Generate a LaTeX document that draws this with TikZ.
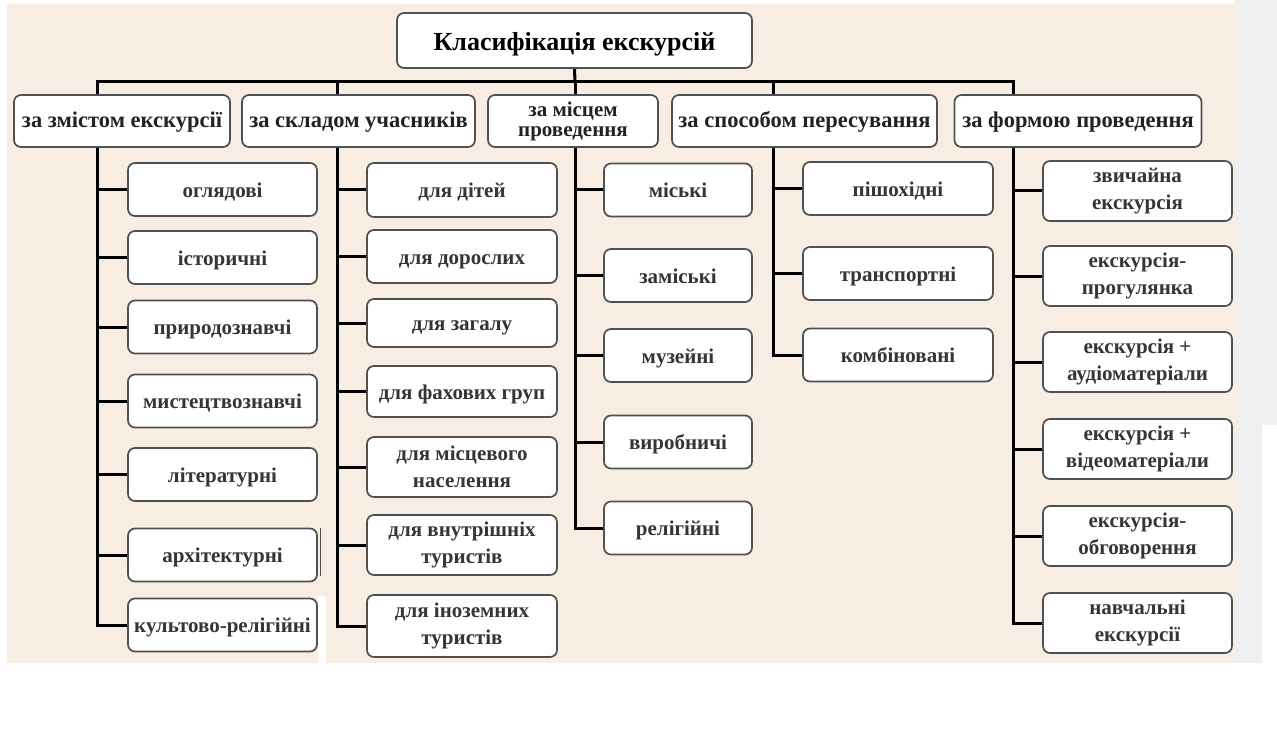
\documentclass[tikz,border=0pt]{standalone}
\usepackage{fontspec}
\setmainfont{Liberation Serif}
\definecolor{bgbeige}{HTML}{F8EDE2}
\definecolor{stripgrey}{HTML}{EFEFF0}
\definecolor{boxline}{HTML}{505050}
\definecolor{txtdark}{HTML}{222222}
\definecolor{txtchild}{HTML}{353535}
\tikzset{
  box/.style={draw=boxline, line width=1.7pt, fill=white, rounded corners=7pt,
    inner sep=0pt, align=center, font=\bfseries},
  titlebox/.style={box, font=\fontsize{26}{28}\selectfont\bfseries, text=black,
    text height=23pt, text depth=2pt},
  catbox/.style={box, minimum height=52pt, font=\fontsize{22.5}{22}\selectfont\bfseries, text=txtdark},
  catone/.style={catbox, text height=17pt, text depth=3pt},
  kidbox/.style={box, font=\fontsize{21}{27}\selectfont\bfseries, text=txtchild},
  one/.style={text height=18pt, text depth=2.5pt},
  conn/.style={draw=black, line width=3pt},
  artefact/.style={draw=boxline, line width=1.2pt},
}
\begin{document}
\begin{tikzpicture}[x=1pt,y=-1pt]
% background
\useasboundingbox (0,0) rectangle (1277,738);
\fill[white] (0,0) rectangle (1277,738);
\fill[bgbeige] (7,4) rectangle (1235,663);
\fill[stripgrey] (1235,0) rectangle (1277,425);
\fill[stripgrey] (1235,425) rectangle (1262,663);
\fill[white] (318,596) rectangle (326,663);

% title and categories
\node[titlebox, minimum width=355pt, minimum height=55pt] (title) at (574.5,40.5) {Класифікація екскурсій};
\node[catone, minimum width=216pt] (c1) at (122,121) {за змістом екскурсії};
\node[catone, minimum width=233pt] (c2) at (358.5,121) {за складом учасників};
\node[catbox, minimum width=170pt, font=\fontsize{21}{20}\selectfont\bfseries] (c3) at (573,121) {за місцем\\проведення};
\node[catone, minimum width=265pt] (c4) at (804.5,121) {за способом пересування};
\node[catone, minimum width=247pt] (c5) at (1078,121) {за формою проведення};

% spine coordinates on the bus
\coordinate (s1) at (97,82);
\coordinate (s2) at (337,82);
\coordinate (s3) at (575,82);
\coordinate (s4) at (773,82);
\coordinate (s5) at (1013,82);

% column 1
\begin{scope}[every node/.style={kidbox, one, minimum width=189pt, minimum height=53pt}]
\node (a1) at (222.5,189.5) {оглядові};
\node (a2) at (222.5,257.5) {історичні};
\node (a3) at (222.5,327) {природознавчі};
\node (a4) at (222.5,401) {мистецтвознавчі};
\node (a5) at (222.5,474.5) {літературні};
\node (a6) at (222.5,555) {архітектурні};
\node (a7) at (222.5,625) {культово-релігійні};
\end{scope}

% column 2
\begin{scope}[every node/.style={kidbox, minimum width=190pt}]
\node[one, minimum height=54pt] (b1) at (462,190) {для дітей};
\node[one, minimum height=53pt] (b2) at (462,256.5) {для дорослих};
\node[one, minimum height=48pt] (b3) at (462,323) {для загалу};
\node[one, minimum height=51pt] (b4) at (462,391.5) {для фахових груп};
\node[minimum height=60pt] (b5) at (462,467) {для місцевого\\населення};
\node[minimum height=60pt] (b6) at (462,545) {для внутрішніх\\туристів};
\node[minimum height=62pt] (b7) at (462,626) {для іноземних\\туристів};
\end{scope}

% column 3
\begin{scope}[every node/.style={kidbox, one, minimum width=148pt, minimum height=53pt}]
\node (d1) at (678,190) {міські};
\node (d2) at (678,275.5) {заміські};
\node (d3) at (678,355.5) {музейні};
\node (d4) at (678,442) {виробничі};
\node (d5) at (678,528) {релігійні};
\end{scope}

% column 4
\begin{scope}[every node/.style={kidbox, one, minimum width=190pt, minimum height=53pt}]
\node (e1) at (898,188.5) {пішохідні};
\node (e2) at (898,273.5) {транспортні};
\node (e3) at (898,355) {комбіновані};
\end{scope}

% column 5
\begin{scope}[every node/.style={kidbox, minimum width=189pt, minimum height=60pt}]
\node (f1) at (1137.5,191) {звичайна\\екскурсія};
\node (f2) at (1137.5,276) {екскурсія-\\прогулянка};
\node (f3) at (1137.5,362) {екскурсія +\\аудіоматеріали};
\node (f4) at (1137.5,449) {екскурсія +\\відеоматеріали};
\node (f5) at (1137.5,536) {екскурсія-\\обговорення};
\node (f6) at (1137.5,623) {навчальні\\екскурсії};
\end{scope}

% small stray line beside "архітектурні"
\coordinate (g1) at ([xshift=3pt]a6.north east);
\coordinate (g2) at ([xshift=3pt,yshift=6pt]a6.south east);
\draw[artefact] (g1) -- (g2);

% connectors: title to bus
\draw[conn] (title.south) -- (s3);
\draw[conn, line cap=rect] (s1) -- (s5);
\draw[conn] (s1) -- (s1 |- c1.north);
\draw[conn] (s2) -- (s2 |- c2.north);
\draw[conn] (s3) -- (s3 |- c3.north);
\draw[conn] (s4) -- (s4 |- c4.north);
\draw[conn] (s5) -- (s5 |- c5.north);

% column spines
\draw[conn] (s1 |- c1.south) |- (a7.west);
\foreach \k in {a1,a2,a3,a4,a5,a6} \draw[conn] (s1 |- \k.west) -- (\k.west);
\draw[conn] (s2 |- c2.south) |- (b7.west);
\foreach \k in {b1,b2,b3,b4,b5,b6} \draw[conn] (s2 |- \k.west) -- (\k.west);
\draw[conn] (s3 |- c3.south) |- (d5.west);
\foreach \k in {d1,d2,d3,d4} \draw[conn] (s3 |- \k.west) -- (\k.west);
\draw[conn] (s4 |- c4.south) |- (e3.west);
\foreach \k in {e1,e2} \draw[conn] (s4 |- \k.west) -- (\k.west);
\draw[conn] (s5 |- c5.south) |- (f6.west);
\foreach \k in {f1,f2,f3,f4,f5} \draw[conn] (s5 |- \k.west) -- (\k.west);
\end{tikzpicture}
\end{document}
